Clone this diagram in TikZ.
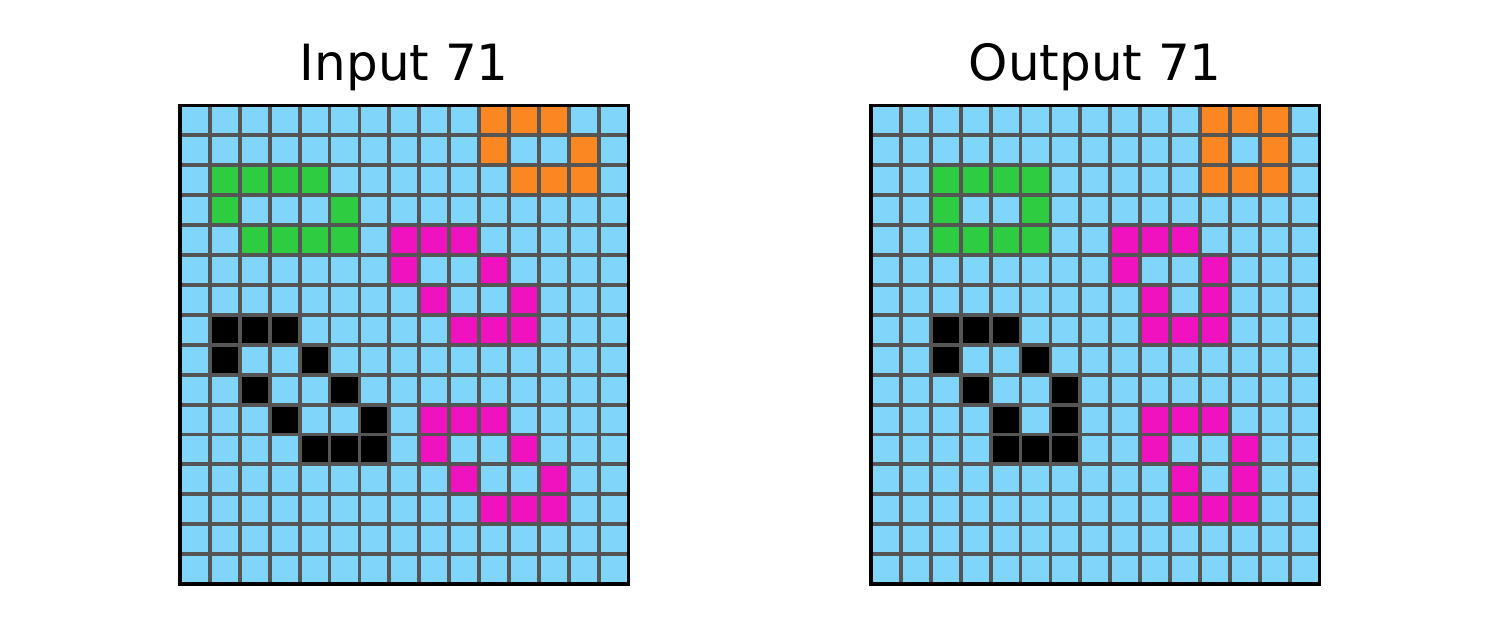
\documentclass[tikz,border=0pt]{standalone}
\usepackage{fontspec}
\setmainfont{DejaVu Sans}
\usepackage{tikz}
\usetikzlibrary{positioning}
\definecolor{arcsky}{HTML}{7FD6FA}
\definecolor{arcorange}{HTML}{FA8722}
\definecolor{arcgreen}{HTML}{2ECC40}
\definecolor{arcmagenta}{HTML}{F012BE}
\definecolor{arcblack}{HTML}{000000}
\definecolor{gridgray}{HTML}{555555}

\begin{document}
\begin{tikzpicture}[
  x=0.01cm, y=-0.01cm,
  title/.style={font=\fontsize{14.2pt}{17pt}\selectfont, inner sep=0pt},
  cellline/.style={draw=gridgray, line width=1.1pt},
  frame/.style={draw=black, line width=1pt}
]
\useasboundingbox (0,0) rectangle (1500,629);
% input grid
\begin{scope}[shift={(180,105.5)}, x=0.2989cm, y=-0.2989cm]
\fill[arcsky] (0,0) rectangle (15,16);
\foreach \c/\r/\col in {10/0/arcorange, 11/0/arcorange, 12/0/arcorange,
  10/1/arcorange, 13/1/arcorange, 11/2/arcorange, 12/2/arcorange, 13/2/arcorange,
  1/2/arcgreen, 2/2/arcgreen, 3/2/arcgreen, 4/2/arcgreen, 1/3/arcgreen, 5/3/arcgreen,
  2/4/arcgreen, 3/4/arcgreen, 4/4/arcgreen, 5/4/arcgreen,
  7/4/arcmagenta, 8/4/arcmagenta, 9/4/arcmagenta, 7/5/arcmagenta, 10/5/arcmagenta,
  8/6/arcmagenta, 11/6/arcmagenta, 9/7/arcmagenta, 10/7/arcmagenta, 11/7/arcmagenta,
  1/7/arcblack, 2/7/arcblack, 3/7/arcblack, 1/8/arcblack, 4/8/arcblack,
  2/9/arcblack, 5/9/arcblack, 3/10/arcblack, 6/10/arcblack,
  4/11/arcblack, 5/11/arcblack, 6/11/arcblack,
  8/10/arcmagenta, 9/10/arcmagenta, 10/10/arcmagenta, 8/11/arcmagenta, 11/11/arcmagenta,
  9/12/arcmagenta, 12/12/arcmagenta, 10/13/arcmagenta, 11/13/arcmagenta, 12/13/arcmagenta}
  \fill[\col] (\c,\r) rectangle ++(1,1);
\foreach \i in {1,...,14} \draw[cellline] (\i,0) -- (\i,16);
\foreach \j in {1,...,15} \draw[cellline] (0,\j) -- (15,\j);
\draw[frame] (0,0) rectangle (15,16);
\coordinate (intop) at (7.5,0);
\end{scope}
% output grid
\begin{scope}[shift={(871,105.5)}, x=0.2989cm, y=-0.2989cm]
\fill[arcsky] (0,0) rectangle (15,16);
\foreach \c/\r/\col in {11/0/arcorange, 12/0/arcorange, 13/0/arcorange,
  11/1/arcorange, 13/1/arcorange, 11/2/arcorange, 12/2/arcorange, 13/2/arcorange,
  2/2/arcgreen, 3/2/arcgreen, 4/2/arcgreen, 5/2/arcgreen, 2/3/arcgreen, 5/3/arcgreen,
  2/4/arcgreen, 3/4/arcgreen, 4/4/arcgreen, 5/4/arcgreen,
  8/4/arcmagenta, 9/4/arcmagenta, 10/4/arcmagenta, 8/5/arcmagenta, 11/5/arcmagenta,
  9/6/arcmagenta, 11/6/arcmagenta, 9/7/arcmagenta, 10/7/arcmagenta, 11/7/arcmagenta,
  2/7/arcblack, 3/7/arcblack, 4/7/arcblack, 2/8/arcblack, 5/8/arcblack,
  3/9/arcblack, 6/9/arcblack, 4/10/arcblack, 6/10/arcblack,
  4/11/arcblack, 5/11/arcblack, 6/11/arcblack,
  9/10/arcmagenta, 10/10/arcmagenta, 11/10/arcmagenta, 9/11/arcmagenta, 12/11/arcmagenta,
  10/12/arcmagenta, 12/12/arcmagenta, 10/13/arcmagenta, 11/13/arcmagenta, 12/13/arcmagenta}
  \fill[\col] (\c,\r) rectangle ++(1,1);
\foreach \i in {1,...,14} \draw[cellline] (\i,0) -- (\i,16);
\foreach \j in {1,...,15} \draw[cellline] (0,\j) -- (15,\j);
\draw[frame] (0,0) rectangle (15,16);
\coordinate (outtop) at (7.5,0);
\end{scope}
\node[title, above=0.25cm of intop, anchor=base] (intitle) {Input 71};
\node[title, above=0.25cm of outtop, anchor=base] (outtitle) {Output 71};
\end{tikzpicture}
\end{document}
